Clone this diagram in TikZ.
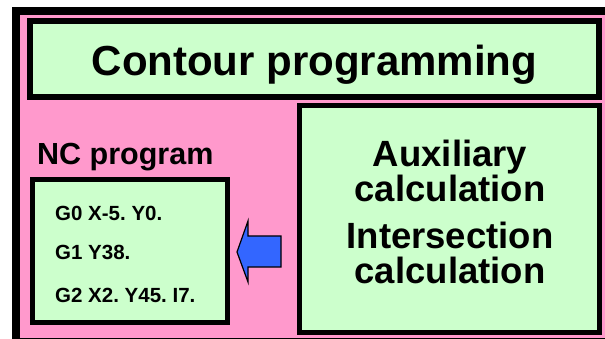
\documentclass[tikz,border=0pt]{standalone}
\usepackage{fontspec}
\setmainfont{Liberation Sans}
\frenchspacing
\definecolor{pinkbg}{HTML}{FF99CC}
\definecolor{greenbox}{HTML}{CCFFCC}
\definecolor{arrowblue}{HTML}{3366FF}
\begin{document}
\begin{tikzpicture}[x=1pt,y=-1pt,
  gbox/.style={draw=black,fill=greenbox,line width=5pt},
  txt/.style={inner sep=0pt,font=\bfseries},
  code/.style={txt,anchor=base west,font=\bfseries\fontsize{20.5}{24}\selectfont},
  auxt/.style={txt,anchor=base,font=\bfseries\fontsize{36.5}{40}\selectfont},
]
\useasboundingbox (0,0) rectangle (605,339);
\fill[white] (0,0) rectangle (605,339);
\begin{scope}
\clip (0,0) rectangle (605,339);
% outer frame
\draw[fill=pinkbg,line width=8pt] (16,11) rectangle (610,342);
\end{scope}
% title box
\draw[gbox,line width=5.5pt] (30,21) rectangle (599,97);
\node[txt,anchor=base,font=\bfseries\fontsize{42}{46}\selectfont] (title) at (314.5,76) {Contour programming};
% NC program label
\node[txt,anchor=base west,font=\bfseries\fontsize{30.5}{34}\selectfont] (nclabel) at (37,165) {NC program};
% code box
\draw[gbox] (32.5,179.5) rectangle (227.5,322.5);
\node[code] (g0) at (55,221) {G0 X-5. Y0.};
\node[code] (g1) at (55,259) {G1 Y38.};
\node[code] (g2) at (55,302) {G2 X2. Y45. I7.};
% auxiliary box
\draw[gbox] (299.5,105.5) rectangle (599.5,332.5);
\node[auxt] (aux1) at (450,167) {Auxiliary};
\node[auxt] (aux2) at (450,202) {calculation};
\node[auxt] (int1) at (450,248) {Intersection};
\node[auxt] (int2) at (450,283) {calculation};
% block arrow
\draw[fill=arrowblue,line width=1.2pt,line join=miter]
  (237,252) -- (248,221) -- (248,236) -- (281,236) -- (281,267) -- (248,267) -- (248,282) -- cycle;
\end{tikzpicture}
\end{document}
